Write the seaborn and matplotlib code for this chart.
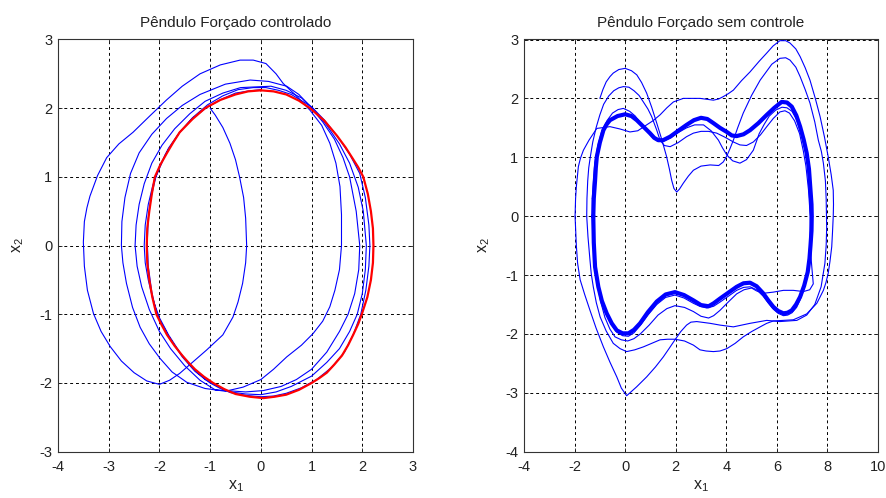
import matplotlib
matplotlib.use("Agg")
import matplotlib.pyplot as plt
import seaborn as sns

# ---------------- data ----------------
titles = ["Pêndulo Forçado controlado", "Pêndulo Forçado sem controle"]
left_xticks = [-4, -3, -2, -1, 0, 1, 2, 3]
left_yticks = [-3, -2, -1, 0, 1, 2, 3]
right_xticks = [-4, -2, 0, 2, 4, 6, 8, 10]
right_yticks = [-4, -3, -2, -1, 0, 1, 2, 3]

# controlled pendulum: transient (blue), one list per revolution
left_loop1 = [(-1.0, 2.0), (-0.9, 1.9), (-0.75, 1.72), (-0.61, 1.49), (-0.5, 1.25), (-0.42, 1.0),
              (-0.34, 0.7), (-0.3, 0.4), (-0.28, 0.0), (-0.3, -0.25), (-0.36, -0.55),
              (-0.45, -0.82), (-0.55, -1.04), (-0.75, -1.3), (-1.07, -1.52), (-1.35, -1.7),
              (-1.6, -1.86), (-1.8, -1.96), (-2.0, -2.02), (-2.25, -1.97), (-2.5, -1.85),
              (-2.75, -1.68), (-2.97, -1.47), (-3.15, -1.25), (-3.3, -0.99), (-3.42, -0.65),
              (-3.48, -0.3), (-3.5, 0.05), (-3.48, 0.35), (-3.43, 0.55), (-3.37, 0.72),
              (-3.22, 1.02), (-3.04, 1.28), (-2.8, 1.48), (-2.52, 1.65), (-2.2, 1.88),
              (-1.86, 2.12), (-1.55, 2.32), (-1.2, 2.5), (-0.8, 2.63), (-0.41, 2.7), (-0.15, 2.7),
              (0.1, 2.65), (0.3, 2.5), (0.44, 2.36), (0.7, 2.18), (0.97, 1.97), (1.2, 1.75),
              (1.36, 1.49), (1.48, 1.2), (1.56, 0.86), (1.59, 0.45), (1.59, 0.0), (1.55, -0.35),
              (1.46, -0.65), (1.36, -0.89), (1.22, -1.1), (1.03, -1.28), (0.8, -1.45),
              (0.51, -1.62), (0.25, -1.8), (0.0, -1.95), (-0.35, -2.06), (-0.7, -2.12)]
left_loop2 = [(-0.7, -2.12), (-1.1, -2.08), (-1.46, -1.99), (-1.75, -1.84), (-1.99, -1.64),
              (-2.2, -1.43), (-2.38, -1.19), (-2.53, -0.9), (-2.65, -0.55), (-2.72, -0.25),
              (-2.75, 0.0), (-2.74, 0.35), (-2.68, 0.7), (-2.57, 1.05), (-2.4, 1.35),
              (-2.15, 1.62), (-1.86, 1.85), (-1.55, 2.04), (-1.2, 2.2), (-0.7, 2.35),
              (-0.21, 2.41), (0.15, 2.39), (0.51, 2.32), (0.75, 2.2), (0.97, 2.03), (1.22, 1.8),
              (1.45, 1.55), (1.62, 1.28), (1.75, 1.0), (1.88, 0.5), (1.95, 0.0), (1.93, -0.35),
              (1.85, -0.7), (1.72, -1.0), (1.55, -1.25), (1.3, -1.55), (1.0, -1.8), (0.7, -1.95),
              (0.4, -2.05), (0.05, -2.11), (-0.3, -2.13), (-0.9, -2.1)]
left_loop3 = [(-0.9, -2.1), (-1.2, -1.96), (-1.5, -1.75), (-1.78, -1.5), (-2.0, -1.25),
              (-2.2, -0.93), (-2.35, -0.6), (-2.44, -0.3), (-2.48, 0.0), (-2.46, 0.3), (-2.4, 0.6),
              (-2.3, 0.9), (-2.15, 1.2), (-1.95, 1.46), (-1.7, 1.7), (-1.4, 1.92), (-1.1, 2.1),
              (-0.75, 2.22), (-0.4, 2.3), (0.2, 2.32), (0.5, 2.26), (0.8, 2.15), (1.05, 1.98),
              (1.3, 1.75), (1.55, 1.48), (1.75, 1.2), (1.92, 0.85), (2.02, 0.5), (2.08, 0.0),
              (2.06, -0.35), (2.0, -0.7), (1.9, -1.0), (1.75, -1.25), (1.55, -1.5), (1.3, -1.7),
              (1.0, -1.9), (0.6, -2.05), (0.3, -2.13), (0.0, -2.17), (-0.3, -2.16),
              (-0.6, -2.13), (-0.85, -2.05), (-1.1, -1.95)]
left_loop4 = [(-1.1, -1.95), (-1.35, -1.78), (-1.6, -1.55), (-1.82, -1.3), (-2.0, -1.05),
              (-2.13, -0.78), (-2.22, -0.5), (-2.28, -0.25), (-2.3, 0.0), (-2.28, 0.3),
              (-2.22, 0.6), (-2.13, 0.88), (-2.0, 1.15), (-1.82, 1.42), (-1.6, 1.65),
              (-1.35, 1.86), (-1.05, 2.05), (-0.75, 2.18), (-0.45, 2.27), (-0.15, 2.3),
              (0.1, 2.3), (0.35, 2.26), (0.6, 2.2), (1.0, 2.02), (1.25, 1.83), (1.5, 1.6),
              (1.75, 1.33), (1.95, 1.05), (2.06, 0.7), (2.13, 0.3), (2.15, 0.0), (2.13, -0.3),
              (2.07, -0.65), (1.97, -1.0), (1.83, -1.28), (1.65, -1.55), (1.4, -1.77),
              (1.1, -1.95), (0.8, -2.07), (0.5, -2.15), (0.25, -2.19), (0.0, -2.2),
              (-0.3, -2.18), (-0.6, -2.14), (-0.8, -2.08), (-1.0, -2.0), (-1.3, -1.83),
              (-1.55, -1.62), (-1.82, -1.32), (-2.05, -1.0), (-2.15, -0.68), (-2.22, -0.3),
              (-2.24, 0.05), (-2.22, 0.4), (-2.16, 0.72), (-2.07, 1.0), (-1.88, 1.33),
              (-1.6, 1.65), (-1.35, 1.85), (-1.05, 2.02), (-0.75, 2.14), (-0.5, 2.22),
              (-0.25, 2.25), (0.0, 2.27)]
# controlled pendulum: target orbit (red)
left_orbit = [(0.0, 2.26), (0.25, 2.245), (0.5, 2.2), (0.75, 2.11), (0.97, 2.0), (1.25, 1.82),
              (1.5, 1.6), (1.67, 1.43), (1.8, 1.28), (1.92, 1.14), (2.02, 1.0), (2.11, 0.75),
              (2.17, 0.5), (2.21, 0.25), (2.22, 0.0), (2.21, -0.25), (2.17, -0.5), (2.1, -0.75),
              (1.99, -1.0), (1.92, -1.14), (1.82, -1.3), (1.72, -1.45), (1.6, -1.6),
              (1.45, -1.73), (1.3, -1.85), (1.15, -1.93), (1.0, -2.0), (0.75, -2.1), (0.5, -2.17),
              (0.27, -2.2), (0.05, -2.22), (-0.22, -2.2), (-0.5, -2.16), (-0.72, -2.09),
              (-0.94, -2.0), (-1.12, -1.91), (-1.3, -1.8), (-1.43, -1.7), (-1.55, -1.6),
              (-1.7, -1.46), (-1.85, -1.3), (-1.96, -1.15), (-2.06, -1.0), (-2.14, -0.75),
              (-2.2, -0.5), (-2.24, -0.25), (-2.25, 0.0), (-2.24, 0.25), (-2.2, 0.5),
              (-2.15, 0.75), (-2.09, 1.0), (-1.98, 1.18), (-1.85, 1.35), (-1.73, 1.5),
              (-1.6, 1.65), (-1.35, 1.84), (-1.1, 2.0), (-0.8, 2.12), (-0.5, 2.2),
              (-0.25, 2.245), (0.0, 2.26)]

# uncontrolled pendulum: transient, one list per revolution
right_loop1 = [(-1.0, 2.0), (-0.88, 2.15), (-0.75, 2.28), (-0.6, 2.37), (-0.47, 2.43),
               (-0.25, 2.49), (0.0, 2.51), (0.25, 2.47), (0.46, 2.4), (0.65, 2.27), (0.85, 2.09),
               (1.05, 1.85), (1.25, 1.58), (1.45, 1.3), (1.64, 1.01), (1.75, 0.8), (1.84, 0.61),
               (1.93, 0.47), (2.04, 0.41), (2.15, 0.46), (2.3, 0.56), (2.5, 0.68), (2.7, 0.78),
               (3.0, 0.85), (3.36, 0.87), (3.7, 0.86), (3.88, 0.92), (4.02, 1.02), (4.15, 1.15),
               (4.28, 1.29), (4.45, 1.5), (4.67, 1.75), (5.0, 2.05), (5.34, 2.31), (5.8, 2.58),
               (6.12, 2.68), (6.35, 2.69), (6.52, 2.65), (6.75, 2.53), (6.92, 2.37), (7.12, 2.15),
               (7.31, 1.92), (7.5, 1.6), (7.64, 1.29), (7.76, 1.1), (7.84, 0.9), (7.92, 0.6),
               (7.95, 0.3), (7.97, -0.2), (7.95, -0.5), (7.9, -0.8), (7.75, -1.2), (7.5, -1.5),
               (7.18, -1.68), (6.79, -1.77), (6.12, -1.79), (5.6, -1.77), (4.94, -1.82),
               (4.28, -1.88), (3.75, -1.85), (3.36, -1.82), (2.83, -1.79), (2.6, -1.8),
               (2.43, -1.85), (2.2, -1.96), (1.97, -2.1), (1.75, -2.24), (1.51, -2.39),
               (1.2, -2.56), (0.85, -2.73), (0.45, -2.9), (0.06, -3.05), (-0.15, -2.92),
               (-0.33, -2.73), (-0.6, -2.48), (-0.86, -2.22), (-1.15, -1.9), (-1.39, -1.6),
               (-1.6, -1.33), (-1.78, -1.08), (-1.88, -0.8), (-1.93, -0.5), (-1.98, 0.0)]
right_loop2 = [(-1.98, 0.0), (-1.96, 0.3), (-1.93, 0.5), (-1.85, 0.84), (-1.77, 0.98),
               (-1.65, 1.12), (-1.43, 1.29), (-1.12, 1.49), (-0.6, 1.52), (-0.2, 1.48),
               (0.19, 1.43), (0.5, 1.45), (0.85, 1.55), (1.1, 1.62), (1.38, 1.72), (1.65, 1.84),
               (1.91, 1.94), (2.3, 2.0), (2.96, 2.0), (3.49, 1.97), (3.7, 1.99), (3.88, 2.03),
               (4.08, 2.08), (4.28, 2.14), (4.6, 2.3), (4.94, 2.45), (5.3, 2.63), (5.6, 2.77),
               (5.85, 2.89), (6.12, 2.98), (6.35, 2.98), (6.52, 2.94), (6.75, 2.84), (6.92, 2.71),
               (7.12, 2.52), (7.31, 2.31), (7.52, 2.0), (7.71, 1.69), (7.88, 1.35), (8.03, 1.01),
               (8.15, 0.7), (8.23, 0.44), (8.24, 0.2), (8.23, 0.0), (8.2, -0.28), (8.17, -0.52),
               (8.1, -0.77), (8.03, -0.97), (7.94, -1.13), (7.84, -1.26), (7.7, -1.38),
               (7.58, -1.48), (7.18, -1.66), (6.65, -1.76), (5.86, -1.78), (5.6, -1.82),
               (5.34, -1.88), (5.0, -1.96), (4.67, -2.05), (4.35, -2.16), (4.02, -2.25),
               (3.75, -2.29), (3.49, -2.3), (3.2, -2.29), (2.96, -2.27), (2.7, -2.19),
               (2.35, -2.12), (1.97, -2.09), (1.68, -2.09), (1.38, -2.1), (1.05, -2.16),
               (0.72, -2.22), (0.38, -2.27), (0.06, -2.3), (-0.2, -2.25), (-0.47, -2.16),
               (-0.75, -1.95), (-0.99, -1.71), (-1.14, -1.47), (-1.26, -1.2), (-1.34, -0.98),
               (-1.39, -0.75), (-1.47, -0.35), (-1.52, 0.0)]
right_loop3 = [(-1.52, 0.0), (-1.51, 0.3), (-1.48, 0.6), (-1.44, 0.82), (-1.38, 1.0),
               (-1.28, 1.26), (-1.15, 1.5), (-1.0, 1.72), (-0.85, 1.9), (-0.65, 2.04),
               (-0.45, 2.13), (-0.25, 2.18), (-0.07, 2.2), (0.15, 2.19), (0.35, 2.13),
               (0.55, 2.05), (0.72, 1.94), (0.9, 1.82), (1.05, 1.69), (1.25, 1.46), (1.38, 1.29),
               (1.55, 1.2), (1.78, 1.18), (2.1, 1.25), (2.43, 1.35), (2.7, 1.41), (3.0, 1.44),
               (3.3, 1.44), (3.62, 1.41), (3.95, 1.34), (4.28, 1.26), (4.54, 1.21), (4.8, 1.2),
               (5.07, 1.26), (5.35, 1.38), (5.6, 1.52), (5.86, 1.66), (6.12, 1.77), (6.32, 1.79),
               (6.5, 1.75), (6.7, 1.62), (6.9, 1.4), (7.05, 1.1), (7.15, 0.85), (7.25, 0.45),
               (7.32, 0.0), (7.35, -0.4), (7.35, -0.7), (7.4, -0.95), (7.44, -1.15), (7.3, -1.25),
               (7.05, -1.28), (6.65, -1.26), (6.26, -1.26), (5.86, -1.29), (5.46, -1.31),
               (5.2, -1.27), (5.0, -1.22), (4.7, -1.25), (4.41, -1.32), (4.05, -1.47),
               (3.75, -1.6), (3.5, -1.69), (3.3, -1.73), (3.0, -1.7), (2.7, -1.62), (2.35, -1.55),
               (1.97, -1.52), (1.65, -1.57), (1.3, -1.68), (0.95, -1.85), (0.6, -2.0),
               (0.35, -2.08), (0.1, -2.12), (-0.15, -2.1), (-0.4, -2.05), (-0.6, -1.92),
               (-0.8, -1.72), (-0.97, -1.45), (-1.1, -1.15), (-1.2, -0.8), (-1.28, -0.4),
               (-1.3, 0.0), (-1.3, 0.3)]
right_loop4 = [(-1.3, 0.3), (-1.26, 0.6), (-1.2, 0.9), (-1.08, 1.2), (-0.92, 1.45), (-0.72, 1.62),
               (-0.5, 1.75), (-0.28, 1.81), (-0.07, 1.83), (0.18, 1.78), (0.4, 1.7), (0.65, 1.56),
               (0.9, 1.42), (1.1, 1.33), (1.3, 1.27), (1.55, 1.28), (1.8, 1.33), (2.1, 1.42),
               (2.43, 1.5), (2.75, 1.55), (3.1, 1.55), (3.4, 1.45), (3.69, 1.29), (3.85, 1.16),
               (4.02, 1.04), (4.25, 0.94), (4.54, 0.9), (4.8, 0.96), (5.07, 1.12), (5.3, 1.4),
               (5.5, 1.56), (5.7, 1.7), (5.95, 1.8), (6.2, 1.85), (6.4, 1.84), (6.6, 1.78),
               (6.78, 1.64), (6.92, 1.45), (7.08, 1.2), (7.2, 0.95), (7.28, 0.5), (7.33, 0.0),
               (7.3, -0.5), (7.22, -0.95), (7.1, -1.2), (6.92, -1.42), (6.78, -1.55),
               (6.6, -1.64), (6.43, -1.68), (6.26, -1.69), (6.05, -1.65), (5.86, -1.58),
               (5.65, -1.47), (5.46, -1.36), (5.2, -1.25), (4.94, -1.2), (4.68, -1.21),
               (4.41, -1.26), (4.08, -1.36), (3.75, -1.46), (3.5, -1.53), (3.23, -1.56),
               (2.95, -1.53), (2.7, -1.48), (2.33, -1.39), (1.97, -1.34), (1.6, -1.38),
               (1.25, -1.5), (0.9, -1.68), (0.59, -1.86), (0.35, -1.98), (0.13, -2.04),
               (-0.1, -2.03), (-0.33, -1.97), (-0.53, -1.85), (-0.73, -1.68), (-0.92, -1.45),
               (-1.06, -1.22), (-1.15, -0.92), (-1.22, -0.6), (-1.26, -0.3), (-1.28, 0.0)]
# uncontrolled pendulum: attracting orbit (dense bundle)
right_orbit = [(-1.26, 0.0), (-1.24, 0.3), (-1.19, 0.6), (-1.16, 0.82), (-1.12, 1.01),
               (-1.0, 1.25), (-0.86, 1.46), (-0.73, 1.56), (-0.6, 1.63), (-0.3, 1.7), (0.0, 1.73),
               (0.25, 1.7), (0.46, 1.63), (0.72, 1.52), (0.98, 1.41), (1.15, 1.33), (1.31, 1.29),
               (1.5, 1.29), (1.78, 1.35), (2.1, 1.45), (2.43, 1.55), (2.72, 1.63), (3.0, 1.67),
               (3.25, 1.65), (3.49, 1.58), (3.75, 1.5), (4.02, 1.43), (4.22, 1.37), (4.41, 1.36),
               (4.68, 1.39), (4.94, 1.46), (5.27, 1.58), (5.6, 1.72), (5.9, 1.84), (6.19, 1.94),
               (6.4, 1.93), (6.59, 1.86), (6.77, 1.71), (6.92, 1.52), (7.06, 1.3), (7.18, 1.07),
               (7.27, 0.8), (7.32, 0.5), (7.37, 0.2), (7.38, 0.0), (7.37, -0.25), (7.33, -0.5),
               (7.29, -0.72), (7.22, -0.95), (7.08, -1.18), (6.92, -1.37), (6.76, -1.5),
               (6.59, -1.6), (6.42, -1.64), (6.26, -1.65), (6.05, -1.61), (5.86, -1.54),
               (5.66, -1.43), (5.46, -1.31), (5.2, -1.19), (4.94, -1.13), (4.68, -1.14),
               (4.41, -1.2), (4.08, -1.3), (3.75, -1.4), (3.5, -1.48), (3.3, -1.53),
               (3.0, -1.51), (2.7, -1.43), (2.33, -1.34), (1.97, -1.29), (1.6, -1.33),
               (1.25, -1.45), (0.9, -1.63), (0.59, -1.82), (0.35, -1.93), (0.13, -1.99),
               (-0.1, -1.99), (-0.33, -1.94), (-0.53, -1.82), (-0.73, -1.65), (-0.92, -1.44),
               (-1.06, -1.2), (-1.19, -0.86), (-1.24, -0.45), (-1.26, 0.0)]

# ---------------- drawing ----------------
plt.rcParams["font.family"] = ["Liberation Sans", "DejaVu Sans"]
plt.rcParams["mathtext.fontset"] = "custom"
plt.rcParams["mathtext.rm"] = "Liberation Sans"
plt.rcParams["mathtext.it"] = "Liberation Sans"
plt.rcParams["lines.solid_joinstyle"] = "round"
plt.rcParams["lines.solid_capstyle"] = "round"

fig = plt.figure(figsize=(8.87, 4.98), dpi=100)
W, H = 887.0, 498.0
bottom = 1 - 451.7 / H
height = (451.7 - 39.5) / H
ax1 = fig.add_axes([58 / W, bottom, 355 / W, height])
ax2 = fig.add_axes([524 / W, bottom, 354 / W, height])


def draw(ax, pts, color, lw, z):
    xs = [p[0] for p in pts]
    ys = [p[1] for p in pts]
    sns.lineplot(x=xs, y=ys, sort=False, estimator=None, color=color,
                 linewidth=lw, ax=ax, zorder=z)


for loop in (left_loop1, left_loop2, left_loop3, left_loop4):
    draw(ax1, loop, "#0000ff", 0.8, 3)
draw(ax1, left_orbit, "#ff0000", 1.6, 4)

for loop in (right_loop1, right_loop2, right_loop3, right_loop4):
    draw(ax2, loop, "#0000ff", 0.8, 3)
draw(ax2, right_orbit, "#0000ff", 3.0, 4)


def style(ax, title, xt, yt):
    ax.set_xlim(xt[0], xt[-1])
    ax.set_ylim(yt[0], yt[-1])
    ax.set_xticks(xt)
    ax.set_yticks(yt)
    ax.set_xticklabels([str(v) for v in xt])
    ax.set_yticklabels([str(v) for v in yt])
    ax.grid(True, color="black", linestyle=(0, (3, 3)), linewidth=0.7)
    ax.set_axisbelow(True)
    ax.tick_params(direction="in", length=3, width=0.6, top=True, right=True,
                   labelsize=10.5, colors="#222222")
    ax.tick_params(axis="x", pad=6)
    ax.tick_params(axis="y", pad=4)
    for s in ax.spines.values():
        s.set_color("#333333")
        s.set_linewidth(0.8)
    ax.set_title(title, fontsize=11, pad=9, color="#222222")
    ax.set_xlabel(r"$\mathregular{x_1}$", fontsize=11.5, labelpad=3, color="#222222")
    ax.set_ylabel(r"$\mathregular{x_2}$", fontsize=11.5, labelpad=10, color="#222222")


style(ax1, titles[0], left_xticks, left_yticks)
style(ax2, titles[1], right_xticks, right_yticks)

fig.savefig("out.png", dpi=100, facecolor="white")
